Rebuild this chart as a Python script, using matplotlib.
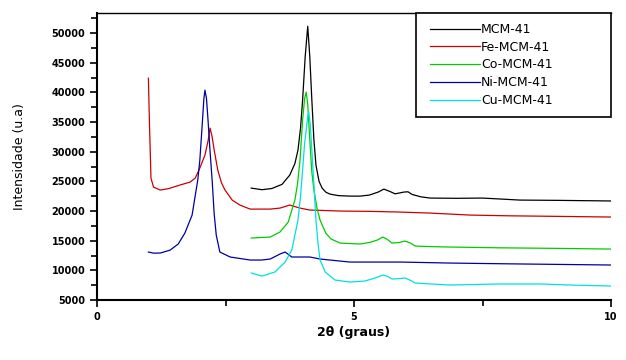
import matplotlib
matplotlib.use("Agg")
import matplotlib.pyplot as plt
from matplotlib.ticker import MultipleLocator
from matplotlib.patches import Rectangle

# ---- data ----
mcm_x = [3.00, 3.21, 3.40, 3.60, 3.75, 3.85, 3.91, 3.96, 4.00, 4.05, 4.10, 4.14, 4.18, 4.22, 4.26, 4.32, 4.38, 4.45, 4.53, 4.70, 4.92, 5.12, 5.30, 5.47, 5.58, 5.70, 5.80, 5.97, 6.05, 6.13, 6.30, 6.48, 7.00, 7.50, 8.23, 9.00, 10.00]
mcm_y = [23870, 23600, 23800, 24500, 26060, 28000, 30280, 34000, 38700, 46000, 51170, 46000, 38700, 32000, 27750, 25000, 23870, 23200, 22860, 22600, 22520, 22520, 22700, 23200, 23700, 23300, 22900, 23200, 23250, 22800, 22400, 22190, 22150, 22190, 21850, 21800, 21700]

fe_x = [1.00, 1.02, 1.05, 1.10, 1.23, 1.40, 1.61, 1.81, 1.91, 2.00, 2.10, 2.16, 2.20, 2.24, 2.28, 2.35, 2.42, 2.49, 2.63, 2.78, 2.98, 3.20, 3.37, 3.56, 3.75, 3.95, 4.14, 4.40, 4.73, 5.30, 5.90, 6.50, 7.26, 8.00, 9.00, 10.00]
fe_y = [42400, 35000, 25560, 24040, 23540, 23800, 24380, 24880, 25550, 27240, 29430, 31800, 33980, 32500, 30280, 26900, 24800, 23540, 21850, 21010, 20330, 20330, 20330, 20500, 21010, 20500, 20170, 20100, 20000, 19950, 19830, 19650, 19320, 19200, 19100, 18990]

co_x = [3.00, 3.37, 3.56, 3.72, 3.85, 3.90, 3.95, 4.00, 4.04, 4.07, 4.10, 4.14, 4.18, 4.22, 4.28, 4.34, 4.45, 4.55, 4.73, 5.12, 5.30, 5.45, 5.56, 5.65, 5.74, 5.88, 5.99, 6.10, 6.19, 6.50, 6.87, 7.84, 9.00, 10.00]
co_y = [15450, 15620, 16460, 18140, 21850, 24500, 28590, 35330, 39000, 40050, 38000, 31960, 26500, 23540, 20500, 18480, 16290, 15300, 14600, 14440, 14700, 15100, 15620, 15200, 14600, 14700, 14940, 14600, 14100, 14000, 13930, 13800, 13700, 13590]

ni_x = [1.00, 1.10, 1.23, 1.42, 1.58, 1.71, 1.85, 1.96, 2.00, 2.04, 2.08, 2.10, 2.13, 2.16, 2.20, 2.24, 2.28, 2.32, 2.39, 2.59, 2.98, 3.20, 3.37, 3.56, 3.66, 3.79, 3.95, 4.14, 4.34, 4.92, 5.90, 6.87, 8.00, 9.00, 10.00]
ni_y = [13090, 12900, 12920, 13400, 14440, 16290, 19320, 25220, 28500, 33650, 39000, 40390, 39000, 35330, 30000, 25220, 19500, 15950, 13090, 12250, 11740, 11740, 11910, 12750, 13090, 12250, 12250, 12250, 11910, 11400, 11400, 11230, 11100, 11000, 10900]

cu_x = [3.00, 3.21, 3.46, 3.66, 3.79, 3.91, 3.96, 4.00, 4.04, 4.07, 4.10, 4.12, 4.15, 4.18, 4.22, 4.26, 4.30, 4.34, 4.44, 4.63, 4.92, 5.21, 5.41, 5.56, 5.65, 5.74, 5.88, 5.99, 6.10, 6.19, 6.50, 6.87, 7.84, 8.62, 9.30, 10.00]
cu_y = [9550, 9040, 9720, 11400, 13430, 18480, 22500, 26900, 31500, 33650, 36000, 36700, 34500, 30280, 24500, 18480, 14500, 11740, 9720, 8370, 8030, 8200, 8700, 9210, 9000, 8540, 8600, 8710, 8300, 7870, 7700, 7530, 7700, 7700, 7500, 7360]

series = [
    ("MCM-41", mcm_x, mcm_y, "#000000"),
    ("Fe-MCM-41", fe_x, fe_y, "#cc0000"),
    ("Co-MCM-41", co_x, co_y, "#00cc00"),
    ("Ni-MCM-41", ni_x, ni_y, "#0000a0"),
    ("Cu-MCM-41", cu_x, cu_y, "#00e0e0"),
]

W, H = 626, 360
L, R, T, B = 97, 611, 13, 300
fig = plt.figure(figsize=(W/100, H/100), dpi=100)
ax = fig.add_axes([L/W, (H-B)/H, (R-L)/W, (B-T)/H])

for name, xs, ys, c in series:
    ax.plot(xs, ys, color=c, lw=0.9, label=name)

ax.set_xlim(0, 10)
ax.set_ylim(5000, 53400)
ax.xaxis.set_major_locator(MultipleLocator(5))
ax.xaxis.set_minor_locator(MultipleLocator(2.5))
ax.yaxis.set_major_locator(MultipleLocator(5000))
ax.yaxis.set_minor_locator(MultipleLocator(2500))
ax.tick_params(which="major", direction="out", length=5, width=1.2, labelsize=7)
ax.tick_params(which="minor", direction="out", length=4, width=1.2)
ax.tick_params(axis="x", which="both", top=False)
ax.tick_params(axis="y", which="both", right=False)
for lab in ax.get_xticklabels() + ax.get_yticklabels():
    lab.set_fontweight("bold")
ax.spines["right"].set_visible(False)
ax.spines["left"].set_linewidth(1.5)
ax.spines["bottom"].set_linewidth(1.5)
ax.spines["top"].set_linewidth(1.0)

ax.set_ylabel("Intensidade (u.a)", fontsize=9, labelpad=18)
ax.set_xlabel("2θ (graus)", fontsize=9, fontweight="bold", labelpad=3)

# legend box (416..611 px horizontally, 13..117 px vertically)
def ax_x(px):
    return (px - L) / (R - L)

def ax_y(py):
    return (B - py) / (B - T)

box = Rectangle((ax_x(416), ax_y(117)), ax_x(611) - ax_x(416), ax_y(13) - ax_y(117),
                transform=ax.transAxes, facecolor="white", edgecolor="black",
                lw=1.2, zorder=4, clip_on=False)
ax.add_patch(box)
leg = ax.legend(loc="upper left", bbox_to_anchor=(ax_x(430), ax_y(23)), borderaxespad=0,
                borderpad=0, fontsize=9, handlelength=4.0, handletextpad=0.1,
                labelspacing=0.38, frameon=False)
leg.set_zorder(5)

fig.savefig("out.png", dpi=100)
